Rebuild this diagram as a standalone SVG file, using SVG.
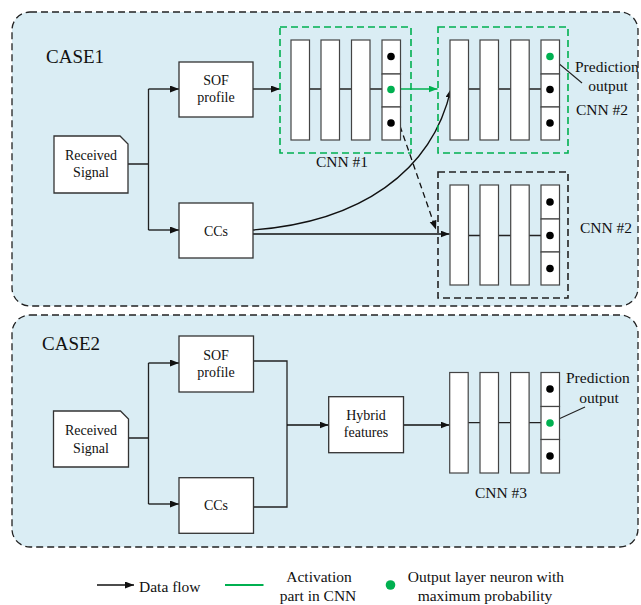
<svg xmlns="http://www.w3.org/2000/svg" width="641" height="605" viewBox="0 0 641 605">
<defs>
<style>
.case{fill:#daedf4;stroke:#222;stroke-width:1.3;stroke-dasharray:7,4}
.box{fill:#fff;stroke:#333;stroke-width:1.3}
.bar{fill:#fff;stroke:#444;stroke-width:1.2}
.gbox{fill:none;stroke:#00b050;stroke-width:1.6;stroke-dasharray:7,4}
.kbox{fill:none;stroke:#222;stroke-width:1.6;stroke-dasharray:7,4}
.ln{fill:none;stroke:#222;stroke-width:1.3}
.arr{fill:none;stroke:#111;stroke-width:1.3;marker-end:url(#ah)}
.garr{fill:none;stroke:#00b050;stroke-width:1.5;marker-end:url(#gh)}
.t{font-family:"Liberation Serif","Times New Roman",serif;font-size:14px;fill:#111;text-anchor:middle}
.l{font-family:"Liberation Serif","Times New Roman",serif;font-size:15.5px;fill:#111}
.c{font-family:"Liberation Serif","Times New Roman",serif;font-size:19px;fill:#111}
.dot{fill:#000}
.gdot{fill:#00b050}
</style>
<marker id="ah" markerUnits="userSpaceOnUse" markerWidth="10" markerHeight="8" refX="9" refY="3.5" orient="auto"><path d="M0,0 L9,3.5 L0,7 z" fill="#111"/></marker>
<marker id="gh" markerUnits="userSpaceOnUse" markerWidth="10" markerHeight="8" refX="9" refY="3.5" orient="auto"><path d="M0,0 L9,3.5 L0,7 z" fill="#00b050"/></marker>
</defs>

<g id="case1">
<rect class="case" x="12" y="12" width="626" height="294" rx="18"/>
<text class="c" x="46" y="63">CASE1</text>
</g>
<g id="case2">
<rect class="case" x="12" y="315" width="626" height="232" rx="18"/>
<text class="c" x="42" y="350">CASE2</text>
</g>

<g id="connectors">
<path class="ln" d="M128,164 H148.5 M148.5,89 V230"/>
<path class="arr" d="M148.5,89 H179"/>
<path class="arr" d="M148.5,230 H179"/>
<path class="arr" d="M253,89 H280"/>
<path class="arr" d="M253,234 H449.5"/>
<path class="arr" d="M253,230 C360,222 432,172 451,89"/>
<path class="arr" d="M400,126 L436,229.5" style="stroke-dasharray:6,4"/>
<path class="garr" d="M391,89 H437.5"/>
<path class="ln" d="M551,57 L582,83" style="stroke-width:1.1"/>
<path class="ln" d="M128.5,438 H148.5 M148.5,363 V504"/>
<path class="arr" d="M148.5,363 H179"/>
<path class="arr" d="M148.5,504 H179"/>
<path class="ln" d="M253.5,361 H287 V507 H253.5"/>
<path class="arr" d="M287,425 H328.5"/>
<path class="arr" d="M403.5,425 H449.5"/>
<path class="ln" d="M550,423 L585,407" style="stroke-width:1.1"/>
</g>

<g id="received1">
<path class="box" d="M54,136 H120 L128,144 V193 H54 Z"/>
<text class="t" x="91" y="160">Received</text>
<text class="t" x="91" y="177">Signal</text>
</g>
<g id="sof1">
<rect class="box" x="179" y="62" width="74" height="55"/>
<text class="t" x="216" y="85">SOF</text>
<text class="t" x="216" y="102">profile</text>
</g>
<g id="ccs1">
<rect class="box" x="179" y="203" width="74" height="55"/>
<text class="t" x="216" y="236">CCs</text>
</g>

<g id="cnn1">
<rect class="gbox" x="280" y="27" width="131" height="126"/>
<path class="ln" d="M300,89 H391"/>
<rect class="bar" x="291" y="40" width="18.5" height="100"/>
<rect class="bar" x="321" y="40" width="18.5" height="100"/>
<rect class="bar" x="351.5" y="40" width="18.5" height="100"/>
<rect class="bar" x="382" y="40" width="18.5" height="34"/>
<rect class="bar" x="382" y="74" width="18.5" height="33"/>
<rect class="bar" x="382" y="107" width="18.5" height="33"/>
<circle class="dot" cx="391" cy="56.5" r="3.8"/>
<circle class="gdot" cx="391" cy="89.5" r="3.8"/>
<circle class="dot" cx="391" cy="123" r="3.8"/>
<text class="l" x="342" y="166.5" text-anchor="middle">CNN #1</text>
</g>

<g id="cnn2a">
<rect class="gbox" x="438" y="27" width="130" height="126"/>
<path class="ln" d="M459,89 H550"/>
<rect class="bar" x="450" y="40" width="18.5" height="100"/>
<rect class="bar" x="480" y="40" width="18.5" height="100"/>
<rect class="bar" x="510.7" y="40" width="18.5" height="100"/>
<rect class="bar" x="541" y="40" width="18.5" height="34"/>
<rect class="bar" x="541" y="74" width="18.5" height="33"/>
<rect class="bar" x="541" y="107" width="18.5" height="33"/>
<circle class="gdot" cx="550" cy="56.5" r="3.8"/>
<circle class="dot" cx="550" cy="89.5" r="3.8"/>
<circle class="dot" cx="550" cy="123" r="3.8"/>
<text class="l" x="575" y="72">Prediction</text>
<text class="l" x="608" y="91" text-anchor="middle">output</text>
<text class="l" x="576" y="115">CNN #2</text>
</g>

<g id="cnn2b">
<rect class="kbox" x="438" y="172" width="130" height="126"/>
<path class="ln" d="M459,235.5 H550"/>
<rect class="bar" x="450" y="185" width="18.5" height="100"/>
<rect class="bar" x="480" y="185" width="18.5" height="100"/>
<rect class="bar" x="510.7" y="185" width="18.5" height="100"/>
<rect class="bar" x="541" y="185" width="18.5" height="34"/>
<rect class="bar" x="541" y="219" width="18.5" height="33"/>
<rect class="bar" x="541" y="252" width="18.5" height="33"/>
<circle class="dot" cx="550" cy="202" r="3.8"/>
<circle class="dot" cx="550" cy="235.5" r="3.8"/>
<circle class="dot" cx="550" cy="268.5" r="3.8"/>
<text class="l" x="580" y="233">CNN #2</text>
</g>

<g id="received2">
<path class="box" d="M53.5,411 H120.5 L128.5,419 V467 H53.5 Z"/>
<text class="t" x="91" y="435">Received</text>
<text class="t" x="91" y="452.5">Signal</text>
</g>
<g id="sof2">
<rect class="box" x="179" y="336" width="74.5" height="56"/>
<text class="t" x="216" y="360">SOF</text>
<text class="t" x="216" y="377">profile</text>
</g>
<g id="ccs2">
<rect class="box" x="179" y="477.7" width="74.5" height="55.6"/>
<text class="t" x="216" y="510">CCs</text>
</g>
<g id="hybrid">
<rect class="box" x="328.7" y="396.7" width="74.8" height="56"/>
<text class="t" x="366" y="420">Hybrid</text>
<text class="t" x="366" y="437.3">features</text>
</g>

<g id="cnn3">
<path class="ln" d="M459,422.7 H550"/>
<rect class="bar" x="449.7" y="372.5" width="18.5" height="100.5"/>
<rect class="bar" x="480" y="372.5" width="18.5" height="100.5"/>
<rect class="bar" x="510.6" y="372.5" width="18.5" height="100.5"/>
<rect class="bar" x="541" y="372.5" width="18.5" height="34"/>
<rect class="bar" x="541" y="406.5" width="18.5" height="33"/>
<rect class="bar" x="541" y="439.5" width="18.5" height="33.5"/>
<circle class="dot" cx="550" cy="389" r="3.8"/>
<circle class="gdot" cx="550" cy="423" r="3.8"/>
<circle class="dot" cx="550" cy="456" r="3.8"/>
<text class="l" x="566" y="383">Prediction</text>
<text class="l" x="599" y="403" text-anchor="middle">output</text>
<text class="l" x="501" y="498" text-anchor="middle">CNN #3</text>
</g>

<g id="legend">
<path class="arr" d="M97,585 H134"/>
<text class="l" x="139" y="592">Data flow</text>
<path d="M225,585 H263.5" stroke="#00b050" stroke-width="2"/>
<text class="l" x="319" y="582" text-anchor="middle">Activation</text>
<text class="l" x="318" y="601" text-anchor="middle">part in CNN</text>
<circle class="gdot" cx="390.5" cy="585" r="4.8"/>
<text class="l" x="486" y="582" text-anchor="middle">Output layer neuron with</text>
<text class="l" x="485" y="601" text-anchor="middle">maximum probability</text>
</g>
</svg>
